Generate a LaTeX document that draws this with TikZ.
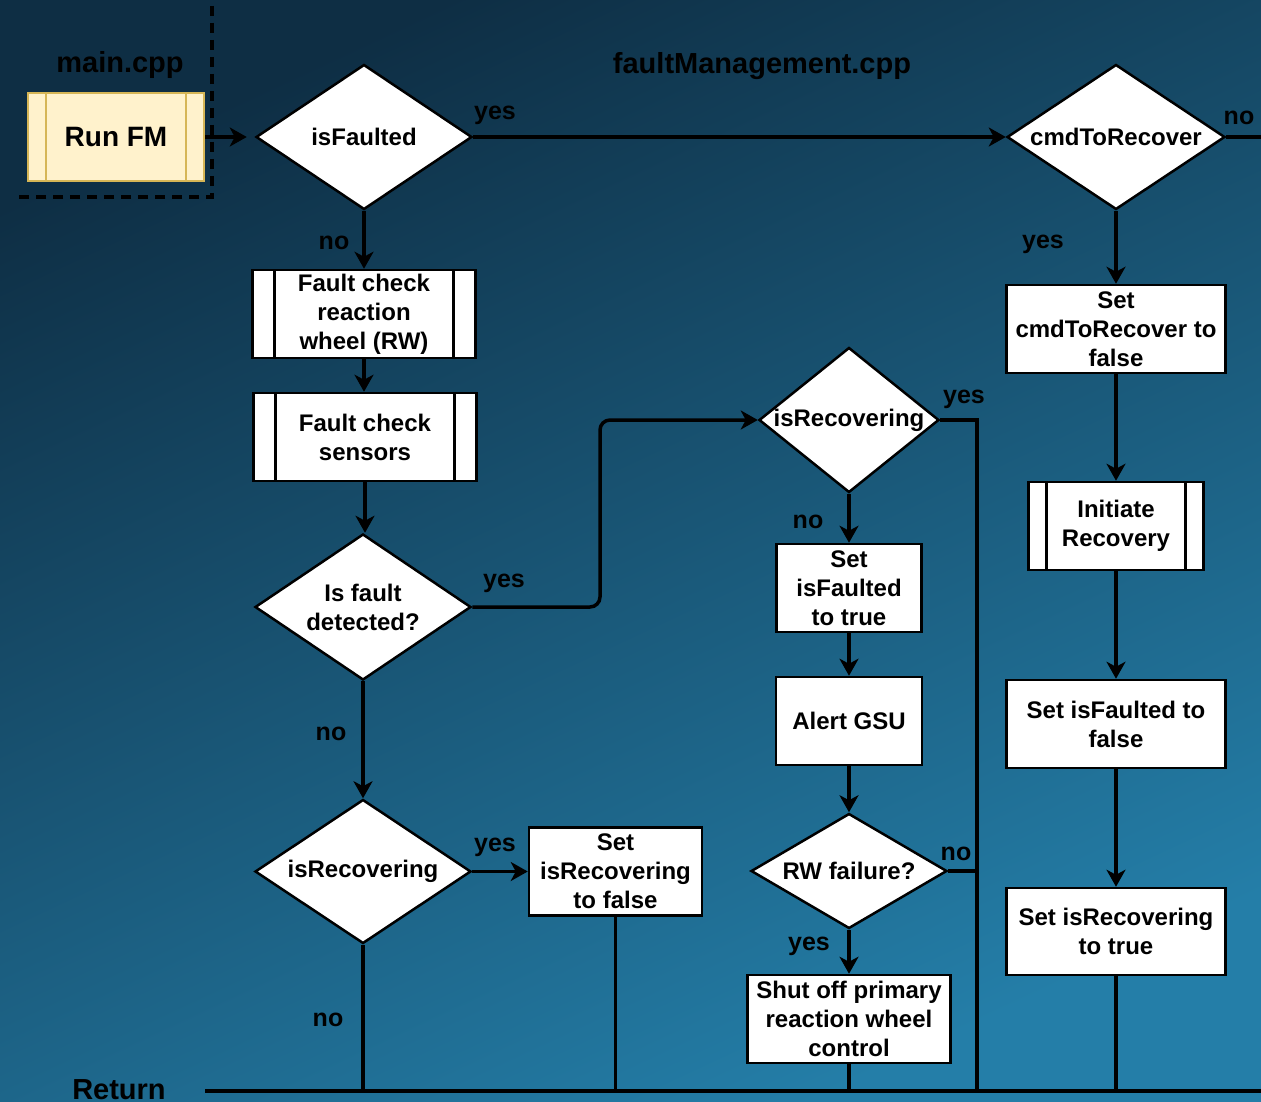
\documentclass[tikz,border=0pt]{standalone}
\usepackage{fontspec}
\setmainfont{Liberation Sans}
\usetikzlibrary{shapes.geometric,arrows.meta}

\definecolor{bgtop}{RGB}{14,46,68}
\definecolor{bgbot}{RGB}{36,126,168}
\definecolor{fmfill}{RGB}{255,242,204}
\definecolor{fmline}{RGB}{214,182,86}

\begin{document}
\begin{tikzpicture}[x=1pt,y=-1pt,
  font=\bfseries\fontsize{24}{29}\selectfont,
  flow/.style={draw=black,line width=3.5pt},
  arr/.style={flow,-{Stealth[length=17pt,width=19pt,inset=5pt]}},
  box/.style={rectangle,draw=black,line width=2.5pt,fill=white,inner sep=0pt,align=center},
  subproc/.style={box,path picture={
      \draw[line width=2.5pt] ([xshift=#1]path picture bounding box.north west) -- ([xshift=#1]path picture bounding box.south west);
      \draw[line width=2.5pt] ([xshift=-#1]path picture bounding box.north east) -- ([xshift=-#1]path picture bounding box.south east);}},
  decision/.style={diamond,draw=black,line width=2.5pt,fill=white,inner sep=0pt},
  tag/.style={anchor=base,font=\bfseries\fontsize{25}{29}\selectfont},
  head/.style={anchor=base,font=\bfseries\fontsize{29}{34}\selectfont},
]
% background
\useasboundingbox (0,0) rectangle (1261,1102);
\shade[top color=bgtop,bottom color=bgbot,shading angle=25] (0,0) rectangle (1261,1102);

% file headings
\node[head] (hmain) at (120,73) {main.cpp};
\node[head] (hfm) at (762,74) {faultManagement.cpp};
\node[head] (hret) at (119,1099) {Return};

% main.cpp boundary
\draw[line width=3.5pt,dash pattern=on 10pt off 7pt] (212,6) -- (212,197) -- (15,197);

% entry point
\node[rectangle,draw=fmline,line width=2.5pt,fill=fmfill,inner sep=0pt,
      minimum width=176pt,minimum height=88pt,
      font=\bfseries\fontsize{28}{32}\selectfont,
      path picture={
        \draw[fmline,line width=2.5pt] ([xshift=18pt]path picture bounding box.north west) -- ([xshift=18pt]path picture bounding box.south west);
        \draw[fmline,line width=2.5pt] ([xshift=-18pt]path picture bounding box.north east) -- ([xshift=-18pt]path picture bounding box.south east);}]
  (runfm) at (116,137) {Run FM};

% decisions
\node[decision,minimum width=216pt,minimum height=145pt,label={center:isFaulted}] (isfaulted) at (364,137) {};
\node[decision,minimum width=218pt,minimum height=145pt,label={center:cmdToRecover}] (cmd) at (1116,137) {};
\node[decision,minimum width=216pt,minimum height=146pt,label={[align=center]center:Is fault\\detected?}] (detect) at (363,607) {};
\node[decision,minimum width=216pt,minimum height=144pt,label={center:isRecovering}] (isrecA) at (363,871.5) {};
\node[decision,minimum width=180pt,minimum height=145pt,label={center:isRecovering}] (isrecB) at (849,420) {};
\node[decision,minimum width=196pt,minimum height=115pt,label={center:RW failure?}] (rwfail) at (849,871) {};

% processes
\node[subproc=22pt,minimum width=223pt,minimum height=88pt] (fcrw) at (364,314) {Fault check\\reaction\\wheel (RW)};
\node[subproc=22pt,minimum width=223pt,minimum height=88pt] (fcsens) at (365,437) {Fault check\\sensors};
\node[box,minimum width=173pt,minimum height=88pt] (setrecfalse) at (615.5,871.5) {Set\\isRecovering\\to false};
\node[box,minimum width=145pt,minimum height=88pt] (setfltrue) at (849,588) {Set\\isFaulted\\to true};
\node[box,minimum width=146pt,minimum height=88pt] (alert) at (849,721) {Alert GSU};
\node[box,minimum width=203pt,minimum height=88pt] (shutoff) at (849,1019) {Shut off primary\\reaction wheel\\control};
\node[box,minimum width=219pt,minimum height=88pt] (setcmd) at (1116,329) {Set\\cmdToRecover to\\false};
\node[subproc=18pt,minimum width=175pt,minimum height=88pt] (initrec) at (1116,526) {Initiate\\Recovery};
\node[box,minimum width=219pt,minimum height=88pt] (setflfalse) at (1116,724) {Set isFaulted to\\false};
\node[box,minimum width=219pt,minimum height=87pt] (setrectrue) at (1116,931.5) {Set isRecovering\\to true};

% junction points
\coordinate (retL) at (205,1091);
\coordinate (retR) at (1261,1091);
\coordinate (cmdout) at (1261,137);
\coordinate (jog) at (600,420);
\coordinate (bus) at (977,1092);

% connectors
\draw[arr,shorten >=8pt] (runfm.east) -- (isfaulted.west);
\draw[arr] (isfaulted.east) -- (cmd.west);
\draw[flow] (cmd.east) -- (cmdout);
\draw[arr] (isfaulted.south) -- (fcrw.north);
\draw[arr] (fcrw.south) -- (fcrw.south |- fcsens.north);
\draw[arr] (fcsens.south) -- (fcsens.south |- detect.north);
\draw[arr,rounded corners=10pt] (detect.east) -| (jog) -- (isrecB.west);
\draw[arr] (detect.south) -- (isrecA.north);
\draw[arr] (isrecA.east) -- (setrecfalse.west);
\draw[arr] (isrecB.south) -- (setfltrue.north);
\draw[arr] (setfltrue.south) -- (alert.north);
\draw[arr] (alert.south) -- (rwfail.north);
\draw[arr] (rwfail.south) -- (shutoff.north);
\draw[flow] (isrecB.east) -| (bus);
\draw[flow] (rwfail.east) -- (rwfail.east -| bus);
\draw[arr] (cmd.south) -- (setcmd.north);
\draw[arr] (setcmd.south) -- (initrec.north);
\draw[arr] (initrec.south) -- (setflfalse.north);
\draw[arr] (setflfalse.south) -- (setrectrue.north);

% return bus
\draw[flow] (retL) -- (retR);
\draw[flow] (isrecA.south) -- (isrecA.south |- retL);
\draw[flow] (setrecfalse.south) -- (setrecfalse.south |- retL);
\draw[flow] (shutoff.south) -- (shutoff.south |- retL);
\draw[flow] (setrectrue.south) -- (setrectrue.south |- retL);

% branch labels
\node[tag] (t1) at (495,120) {yes};
\node[tag] (t2) at (1239,125) {no};
\node[tag] (t3) at (334,250) {no};
\node[tag] (t4) at (1043,248) {yes};
\node[tag] (t5) at (964,403) {yes};
\node[tag] (t6) at (808,528) {no};
\node[tag] (t7) at (504,587) {yes};
\node[tag] (t8) at (331,740) {no};
\node[tag] (t9) at (495,851) {yes};
\node[tag] (t10) at (956,860) {no};
\node[tag] (t11) at (809,950) {yes};
\node[tag] (t12) at (328,1026) {no};
\end{tikzpicture}
\end{document}
